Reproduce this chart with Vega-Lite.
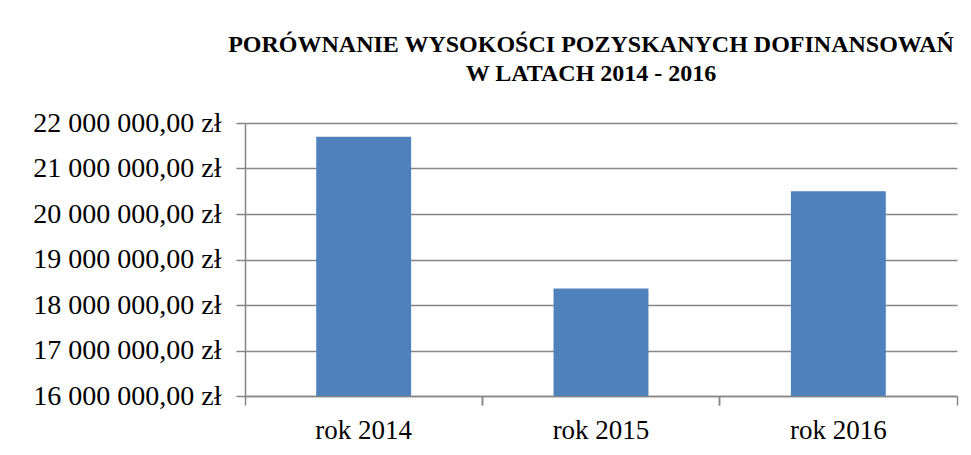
{
  "$schema": "https://vega.github.io/schema/vega-lite/v6.json",
  "autosize": "none",
  "padding": {"left": 245, "top": 123, "right": 14, "bottom": 59},
  "width": 712,
  "height": 273,
  "background": "white",
  "title": {
    "text": ["PORÓWNANIE WYSOKOŚCI POZYSKANYCH DOFINANSOWAŃ", "W LATACH 2014 - 2016"],
    "font": "Liberation Serif",
    "fontSize": 24,
    "fontWeight": "bold",
    "color": "black",
    "lineHeight": 29,
    "anchor": "middle",
    "frame": "group",
    "dx": -10,
    "offset": 23
  },
  "data": {
    "values": [
      {"rok": "rok 2014", "kwota": 21700000},
      {"rok": "rok 2015", "kwota": 18360000},
      {"rok": "rok 2016", "kwota": 20500000}
    ]
  },
  "layer": [
    {
      "mark": {"type": "bar", "color": "#4F81BD", "width": {"band": 0.4}, "clip": true},
      "encoding": {
        "x": {
          "field": "rok",
          "type": "nominal",
          "sort": null,
          "title": null,
          "scale": {"paddingInner": 0, "paddingOuter": 0},
          "axis": {
            "orient": "bottom",
            "bandPosition": 0,
            "labelAngle": 0,
            "labelFont": "Liberation Serif",
            "labelFontSize": 27,
            "labelColor": "black",
            "labelPadding": 12,
            "tickSize": 9,
            "tickColor": "#868686",
            "tickWidth": 1.5,
            "domainColor": "#868686",
            "domainWidth": 1.5,
            "grid": false
          }
        },
        "y": {
          "field": "kwota",
          "type": "quantitative",
          "title": null,
          "scale": {"domain": [16000000, 22000000], "zero": false, "nice": false},
          "axis": {
            "values": [16000000, 17000000, 18000000, 19000000, 20000000, 21000000, 22000000],
            "labelExpr": "replace(replace(format(datum.value, ',.2f'), regexp(',', 'g'), ' '), '.', ',') + ' zł'",
            "labelFont": "Liberation Serif",
            "labelFontSize": 28,
            "labelLimit": 400,
            "labelColor": "black",
            "labelPadding": 15,
            "tickSize": 9,
            "tickColor": "#868686",
            "tickWidth": 1.5,
            "domainColor": "#868686",
            "domainWidth": 1.5,
            "grid": true,
            "gridColor": "#868686",
            "gridWidth": 1.5
          }
        }
      }
    },
    {
      "mark": {"type": "bar", "opacity": 0, "width": {"band": 0.4}},
      "encoding": {
        "x": {
          "field": "rok",
          "type": "nominal",
          "sort": null,
          "title": null,
          "axis": {
            "orient": "bottom",
            "bandPosition": 1,
            "labels": false,
            "domain": false,
            "grid": false,
            "tickSize": 9,
            "tickColor": "#868686",
            "tickWidth": 1.5
          }
        },
        "y": {
          "field": "kwota",
          "type": "quantitative",
          "title": null
        }
      }
    }
  ],
  "resolve": {"axis": {"x": "independent"}},
  "config": {"view": {"stroke": null}}
}
